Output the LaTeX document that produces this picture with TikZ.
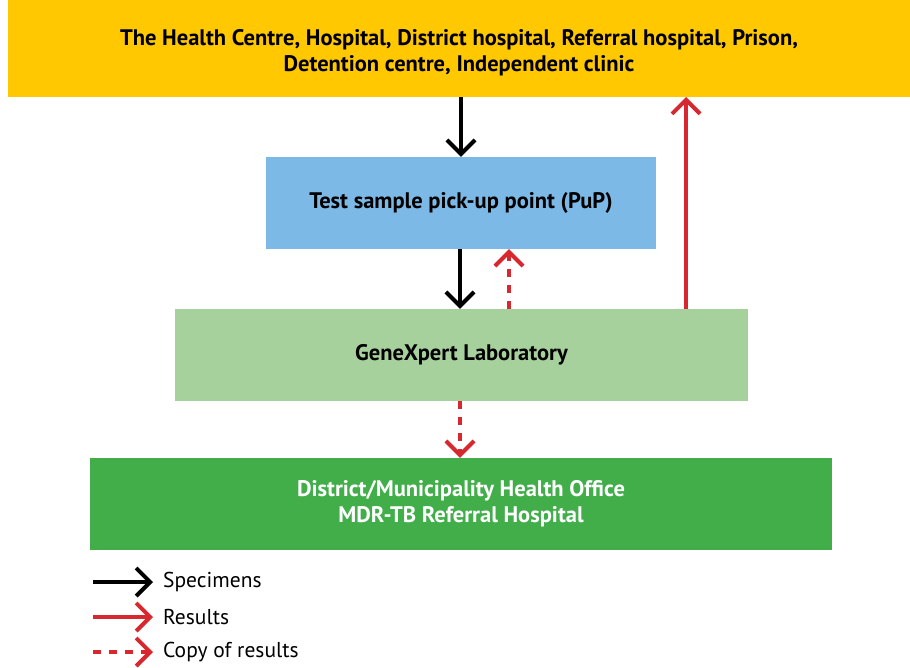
\documentclass[tikz,border=0pt]{standalone}
\usepackage{fontspec}
\setmainfont{PT Sans}
\usetikzlibrary{arrows.meta}
\definecolor{tbyellow}{HTML}{FFC800}
\definecolor{tbblue}{HTML}{7DB9E6}
\definecolor{tblightgreen}{HTML}{A6D19C}
\definecolor{tbgreen}{HTML}{42AE4A}
\definecolor{tbred}{HTML}{D7282F}
\begin{document}
\begin{tikzpicture}[x=1pt,y=-1pt,
  box/.style={inner sep=0pt,align=center,font=\fontsize{22.5}{26}\selectfont\bfseries},
  spec/.style={line width=4pt,-{Straight Barb[length=14pt,width=28pt,line width=4pt]}},
  res/.style={spec,tbred},
  copyres/.style={res,dash pattern=on 8pt off 8pt},
  legend/.style={anchor=west,inner sep=4pt,font=\fontsize{21.5}{25}\selectfont}]
\useasboundingbox (0,0) rectangle (910,667);
\fill[tbyellow] (8,0) rectangle (910,97);
\node[box] (unit) at (459,53)
  {The Health Centre, Hospital, District hospital, Referral hospital, Prison,\\Detention centre, Independent clinic};
\node[box,fill=tbblue,minimum width=390pt,minimum height=92pt] (pup) at (461,203)
  {Test sample pick-up point (PuP)};
\node[box,fill=tblightgreen,minimum width=573pt,minimum height=92pt] (lab) at (461.5,355)
  {GeneXpert Laboratory};
\node[box,fill=tbgreen,text=white,minimum width=742pt,minimum height=92pt] (office) at (461,504)
  {District/Municipality Health Office\\MDR-TB Referral Hospital};
\coordinate (unitbase) at (459,97);
\coordinate (lableft) at ([xshift=-1.5pt]lab.north);
\coordinate (labcopy) at ([xshift=47.5pt]lab.north);
\coordinate (labres) at ([xshift=224.5pt]lab.north);
\draw[spec] (pup.north |- unitbase) -- (pup.north);
\draw[spec] (lableft |- pup.south) -- (lableft);
\draw[copyres] (labcopy) -- (labcopy |- pup.south);
\draw[res] (labres) -- (labres |- unitbase);
\draw[copyres] (lableft |- lab.south) -- (lableft |- office.north);
% legend
\node[legend] (lspec) at (159,582) {Specimens};
\node[legend] (lres) at (159,617) {Results};
\node[legend] (lcopy) at (159,652) {Copy of results};
\draw[spec] ([xshift=-66pt]lspec.west) -- ([xshift=-6pt]lspec.west);
\draw[res] ([xshift=-66pt]lres.west) -- ([xshift=-6pt]lres.west);
\draw[copyres] ([xshift=-66pt]lcopy.west) -- ([xshift=-6pt]lcopy.west);
\end{tikzpicture}
\end{document}
